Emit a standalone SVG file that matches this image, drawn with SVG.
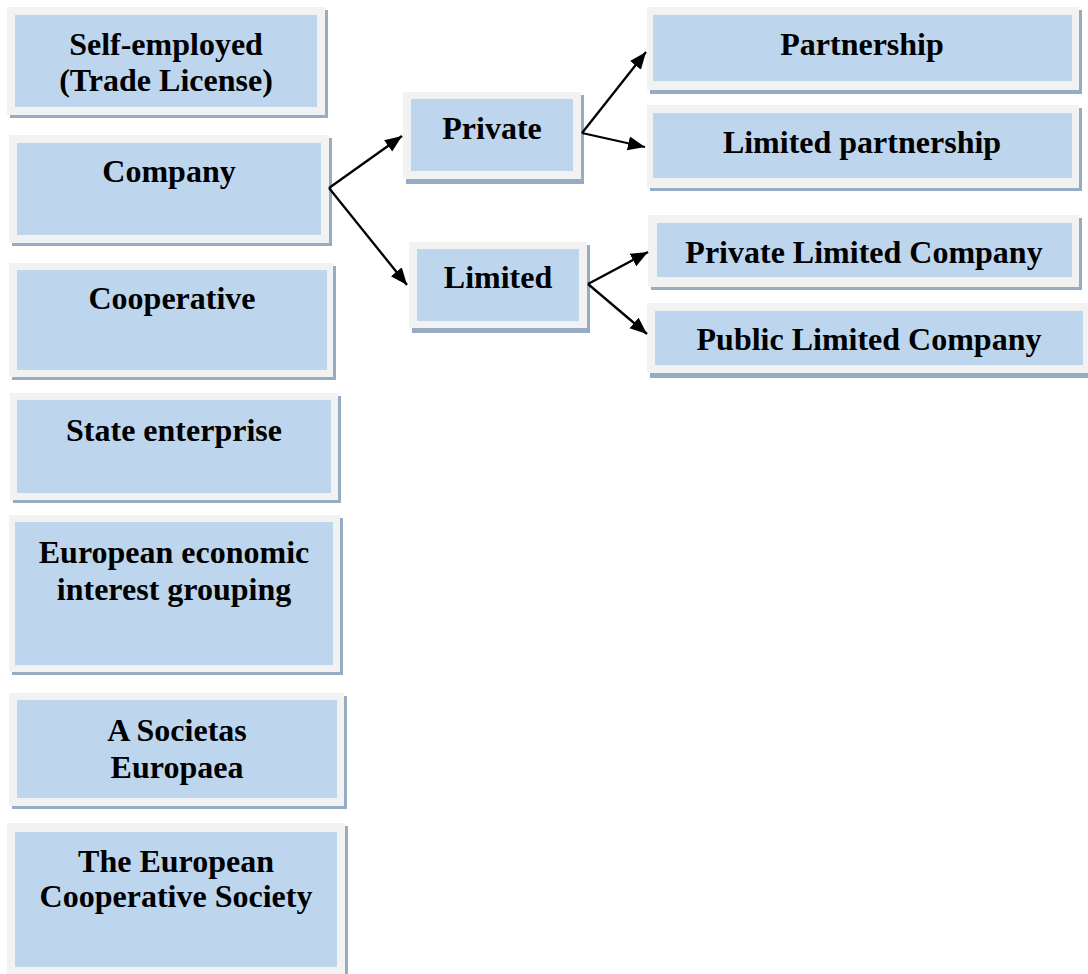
<svg xmlns="http://www.w3.org/2000/svg" width="1088" height="974" viewBox="0 0 1088 974">
<defs>
<style>
.sh{fill:#97acc4}
.fr{fill:#f2f2f2}
.in{fill:#bdd6ee}
.t{font-family:"Liberation Serif","Times New Roman",serif;font-weight:bold;font-size:32px;fill:#000;text-anchor:middle}
.c{stroke:#000;stroke-width:2.3;fill:none}
</style>
<marker id="ah" markerUnits="userSpaceOnUse" markerWidth="20" markerHeight="16" refX="17" refY="7" orient="auto">
<path d="M0,0 L17,7 L0,14 z" fill="#000"/>
</marker>
</defs>
<rect width="1088" height="974" fill="#fff"/>

<g id="n-self">
<rect class="sh" x="10" y="10" width="318" height="108"/>
<rect class="fr" x="7" y="7" width="318" height="108"/>
<rect class="in" x="15" y="15" width="302" height="92"/>
<text class="t" x="166" y="55">Self-employed</text>
<text class="t" x="166" y="91">(Trade License)</text>
</g>

<g id="n-company">
<rect class="sh" x="12" y="138" width="320" height="108"/>
<rect class="fr" x="9" y="135" width="320" height="108"/>
<rect class="in" x="17" y="143" width="304" height="92"/>
<text class="t" x="169" y="182">Company</text>
</g>

<g id="n-coop">
<rect class="sh" x="12" y="266" width="324" height="114"/>
<rect class="fr" x="9" y="263" width="324" height="114"/>
<rect class="in" x="17" y="270" width="310" height="100"/>
<text class="t" x="172" y="309">Cooperative</text>
</g>

<g id="n-state">
<rect class="sh" x="13" y="396" width="328" height="107"/>
<rect class="fr" x="10" y="393" width="328" height="107"/>
<rect class="in" x="17" y="400" width="314" height="93"/>
<text class="t" x="174" y="441">State enterprise</text>
</g>

<g id="n-eeig">
<rect class="sh" x="12" y="518" width="331" height="157"/>
<rect class="fr" x="9" y="515" width="331" height="157"/>
<rect class="in" x="15" y="522" width="318" height="143"/>
<text class="t" x="174" y="563">European economic</text>
<text class="t" x="174" y="600">interest grouping</text>
</g>

<g id="n-se">
<rect class="sh" x="12" y="696" width="335" height="113"/>
<rect class="fr" x="9" y="693" width="335" height="113"/>
<rect class="in" x="17" y="700" width="320" height="98"/>
<text class="t" x="177" y="741">A Societas</text>
<text class="t" x="177" y="778">Europaea</text>
</g>

<g id="n-sce">
<rect class="sh" x="10" y="826" width="338" height="151"/>
<rect class="fr" x="7" y="823" width="338" height="151"/>
<rect class="in" x="15" y="832" width="322" height="135"/>
<text class="t" x="176" y="872">The European</text>
<text class="t" x="176" y="907">Cooperative Society</text>
</g>

<g id="n-private">
<rect class="sh" x="406" y="95" width="178" height="89"/>
<rect class="fr" x="403" y="92" width="178" height="87"/>
<rect class="in" x="411" y="99" width="162" height="72"/>
<text class="t" x="492" y="139">Private</text>
</g>

<g id="n-limited">
<rect class="sh" x="412" y="245" width="178" height="88"/>
<rect class="fr" x="409" y="242" width="178" height="86"/>
<rect class="in" x="417" y="249" width="162" height="72"/>
<text class="t" x="498" y="288">Limited</text>
</g>

<g id="n-partnership">
<rect class="sh" x="650" y="10" width="432" height="84"/>
<rect class="fr" x="647" y="7" width="432" height="83"/>
<rect class="in" x="653" y="15" width="419" height="66"/>
<text class="t" x="862" y="55">Partnership</text>
</g>

<g id="n-limpart">
<rect class="sh" x="650" y="108" width="432" height="83"/>
<rect class="fr" x="647" y="105" width="432" height="83"/>
<rect class="in" x="653" y="113" width="419" height="65"/>
<text class="t" x="862" y="153">Limited partnership</text>
</g>

<g id="n-ltd">
<rect class="sh" x="651" y="218" width="431" height="72"/>
<rect class="fr" x="648" y="215" width="431" height="72"/>
<rect class="in" x="657" y="223" width="415" height="54"/>
<text class="t" x="864" y="263">Private Limited Company</text>
</g>

<g id="n-plc">
<rect class="sh" x="650" y="306" width="438" height="72"/>
<rect class="fr" x="647" y="303" width="441" height="70"/>
<rect class="in" x="655" y="311" width="428" height="54"/>
<text class="t" x="869" y="350">Public Limited Company</text>
</g>

<g id="connectors">
<line class="c" x1="329" y1="188" x2="402" y2="136" marker-end="url(#ah)"/>
<line class="c" x1="329" y1="188" x2="407" y2="285" marker-end="url(#ah)"/>
<line class="c" x1="582" y1="133" x2="646" y2="52" marker-end="url(#ah)"/>
<line class="c" x1="582" y1="133" x2="645" y2="147" marker-end="url(#ah)"/>
<line class="c" x1="588" y1="284" x2="648" y2="252" marker-end="url(#ah)"/>
<line class="c" x1="588" y1="284" x2="647" y2="334" marker-end="url(#ah)"/>
</g>
</svg>
